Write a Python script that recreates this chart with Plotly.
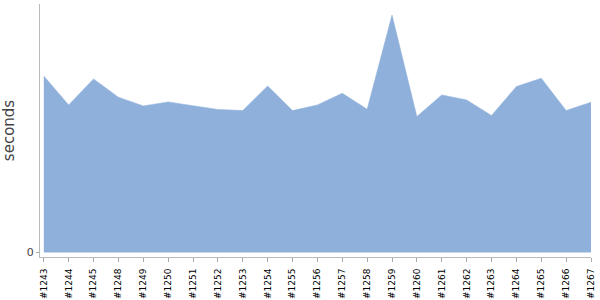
import plotly.graph_objects as go

builds = ["#1243", "#1244", "#1245", "#1248", "#1249", "#1250", "#1251", "#1252",
          "#1253", "#1254", "#1255", "#1256", "#1257", "#1258", "#1259", "#1260",
          "#1261", "#1262", "#1263", "#1264", "#1265", "#1266", "#1267"]
seconds = [176.7, 147.7, 173.7, 155.4, 146.7, 150.7, 146.9, 143.2,
           142.0, 166.7, 142.0, 147.7, 159.4, 143.4, 237.7, 136.0,
           157.7, 152.7, 137.0, 166.0, 174.4, 142.0, 150.4]

fill_color = "rgb(143,176,218)"

fig = go.Figure()
fig.add_trace(go.Scatter(
    x=list(range(len(builds))), y=seconds, mode="lines",
    line=dict(color=fill_color, width=0.5),
    fill="tozeroy", fillcolor=fill_color, hoverinfo="skip",
))

fig.update_layout(
    width=600, height=300,
    margin=dict(l=40, r=9, t=4, b=43),
    paper_bgcolor="white", plot_bgcolor="white",
    showlegend=False,
    font=dict(family="DejaVu Sans", color="#000"),
)
fig.update_xaxes(
    range=[-0.153, len(builds) - 1],
    tickmode="array", tickvals=list(range(len(builds))), ticktext=builds,
    tickangle=-90, tickfont=dict(size=9, color="#000"),
    ticks="outside", ticklen=4, tickcolor="#aaa", ticklabelstandoff=3,
    showline=True, linecolor="#bbb", linewidth=1,
    showgrid=False, zeroline=False, automargin=False,
)
fig.update_yaxes(
    range=[-4.6, 248.7],
    tickmode="array", tickvals=[0], ticktext=["0"],
    tickfont=dict(size=11, color="#444"),
    ticks="outside", ticklen=3, tickcolor="#aaa",
    showline=True, linecolor="#bbb", linewidth=1,
    showgrid=False, zeroline=False, automargin=False,
    title=dict(text="seconds", font=dict(size=15, color="#444"), standoff=8),
)

fig.write_html("out.html")
